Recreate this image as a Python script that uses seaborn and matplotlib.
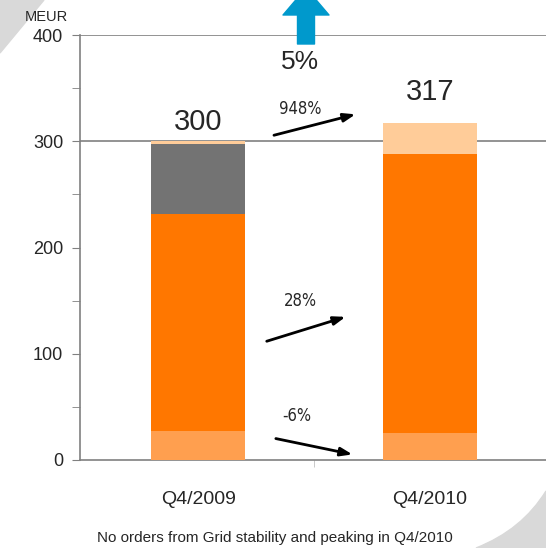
import matplotlib
matplotlib.use('Agg')
import matplotlib.pyplot as plt
import seaborn as sns
import pandas as pd
from matplotlib.patches import Polygon, PathPatch
from matplotlib.path import Path

# data (MEUR)
quarters = ['Q4/2009', 'Q4/2010']
light = [27.0, 25.4]
orange = [205.0, 262.6]
gray = [65.2, 0.0]
peach = [2.8, 29.3]
totals = ['300', '317']
changes = ['-6%', '28%', '948%']
total_change = '5%'
footnote = 'No orders from Grid stability and peaking in Q4/2010'

sns.set_style('white')
plt.rcParams['font.family'] = ['Liberation Sans', 'DejaVu Sans']

W, H = 546, 548
fig = plt.figure(figsize=(W / 100, H / 100), dpi=100)


def fpt(x, y):
    return (x / W, 1 - y / H)


# decorative grey corners
fig.patches.append(Polygon([fpt(0, 0), fpt(44, 0), fpt(0, 53)], closed=True,
                           transform=fig.transFigure, color='#d9d9d9', zorder=0))
corner = Path([fpt(546, 491), fpt(522, 530), fpt(476, 548), fpt(546, 548), fpt(546, 491)],
              [Path.MOVETO, Path.CURVE3, Path.CURVE3, Path.LINETO, Path.CLOSEPOLY])
fig.patches.append(PathPatch(corner, transform=fig.transFigure, color='#d9d9d9', zorder=0))

ax = fig.add_axes([80 / W, 1 - 460 / H, 466 / W, 425 / H])
ax.patch.set_alpha(0)

df = pd.DataFrame({'q': quarters, 'light': light, 'orange': orange, 'gray': gray, 'peach': peach})
bottom = [0.0, 0.0]
for col, c in [('light', '#ff9f4f'), ('orange', '#ff7700'), ('gray', '#737373'), ('peach', '#ffcc99')]:
    sns.barplot(data=df, x='q', y=col, color=c, width=0.405, bottom=bottom,
                saturation=1, linewidth=0, edgecolor='none', ax=ax, zorder=3)
    bottom = [b + v for b, v in zip(bottom, df[col])]

ax.set_xlim(-0.51, 1.5)
ax.set_ylim(0, 400)
ax.set_xlabel('')
ax.set_ylabel('')

for s in ['top', 'right']:
    ax.spines[s].set_visible(False)
for s in ['left', 'bottom']:
    ax.spines[s].set_color('#808080')
    ax.spines[s].set_linewidth(1.2)
ax.axhline(400, color='#808080', lw=1.2, zorder=1)
ax.axhline(300, color='#808080', lw=1.2, zorder=1)

ax.set_yticks([0, 100, 200, 300, 400])
ax.set_yticks([50, 150, 250, 350], minor=True)
ax.tick_params(axis='y', which='both', direction='out', left=True, length=6,
               color='#808080', labelsize=13, pad=6)
ax.set_xticks([0.5], minor=True)
ax.set_xticks([0, 1])
ax.set_xticklabels(quarters, fontsize=14)
ax.tick_params(axis='x', which='major', length=0, pad=22)
ax.tick_params(axis='x', which='minor', direction='out', bottom=True, length=5,
               color='#c0c0c0')

fig.text(46 / W, 1 - 17 / H, 'MEUR', fontsize=10.5, ha='center', va='center', zorder=10)

# totals
tot = [sum(v) for v in zip(light, orange, gray, peach)]
ax.text(0, tot[0] + 5, totals[0], fontsize=21, ha='center', va='bottom')
ax.text(1, tot[1] + 16, totals[1], fontsize=21, ha='center', va='bottom')
ax.text(0.44, 363, total_change, fontsize=19, ha='center', va='bottom')

# change arrows
arrows = [((0.323, 20.7), (0.677, 4.7), (0.427, 33)),
          ((0.284, 111), (0.647, 135.5), (0.44, 141)),
          ((0.315, 305), (0.69, 326), (0.44, 322))]
for lab, (p0, p1, tp) in zip(changes, arrows):
    ax.annotate('', xy=p1, xytext=p0,
                arrowprops=dict(arrowstyle='-|>,head_length=0.7,head_width=0.25',
                                color='black', lw=2))
    ax.text(tp[0], tp[1], lab, fontsize=12, ha='center', va='bottom',
            family='DejaVu Sans', fontstretch='condensed')

# blue up arrow at top
cx, sw, hw, base, hb = 306, 17, 46, 44, 15
pts = [(cx - sw / 2, base), (cx - sw / 2, hb), (cx - hw / 2, hb), (cx, -12),
       (cx + hw / 2, hb), (cx + sw / 2, hb), (cx + sw / 2, base)]
fig.patches.append(Polygon([fpt(x, y) for x, y in pts], closed=True,
                           transform=fig.transFigure, color='#0099cc', zorder=5,
                           joinstyle='round'))

fig.text(275 / W, 1 - 538 / H, footnote, fontsize=11, ha='center', va='center')

fig.savefig('out.png', dpi=100)
